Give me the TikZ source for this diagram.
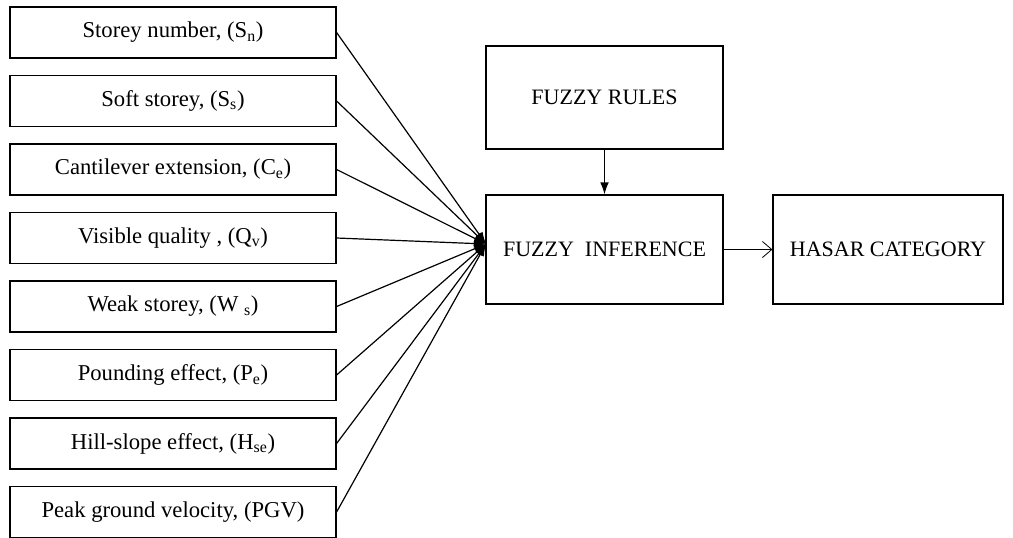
\documentclass[tikz,border=0pt]{standalone}
\usepackage{fontspec}
\setmainfont{Liberation Serif}
\usetikzlibrary{arrows.meta}

\begin{document}
\begin{tikzpicture}[x=0.75pt,y=-0.75pt,
    inbox/.style={draw,line width=0.9pt,minimum width=244.5pt,minimum height=38.25pt,
      inner sep=0pt,font=\fontsize{17}{20}\selectfont},
    bigbox/.style={draw,line width=0.9pt,minimum height=81.75pt,
      inner sep=0pt,font=\fontsize{16.5}{19}\selectfont},
    feed/.style={-{Latex[length=9pt,width=6.5pt]},line width=0.9pt}]
    \useasboundingbox (0,0) rectangle (1013,537);
    \foreach \i/\lab in {
      1/{Storey number, (S\textsubscript{n})},
      2/{Soft storey, (S\textsubscript{s})},
      3/{Cantilever extension, (C\textsubscript{e})},
      4/{Visible quality , (Q\textsubscript{v})},
      5/{Weak storey, (W \textsubscript{s})},
      6/{Pounding effect, (P\textsubscript{e})},
      7/{Hill-slope effect, (H\textsubscript{se})},
      8/{Peak ground velocity, (PGV)}}{
      \node[inbox] (in\i) at (173,{32.5+68.5*(\i-1)}) {\lab};
    }
    \node[bigbox,minimum width=177.75pt,minimum height=77.25pt] (rules) at (604.5,97.5) {FUZZY RULES};
    \node[bigbox,minimum width=177.75pt] (infer) at (604.5,249.5) {FUZZY\ \ INFERENCE};
    \node[bigbox,minimum width=172.5pt] (hasar) at (888,249.5) {HASAR CATEGORY};
    \coordinate (hub) at (486,244);
    \foreach \i in {1,...,8}
      \draw[feed] (in\i.east) -- (hub);
    \draw[feed] (rules.south) -- (infer.north);
    \draw[-{Straight Barb[length=7pt,width=12pt]},line width=0.6pt] (infer.east) -- (hasar.west);
  \end{tikzpicture}
\end{document}
